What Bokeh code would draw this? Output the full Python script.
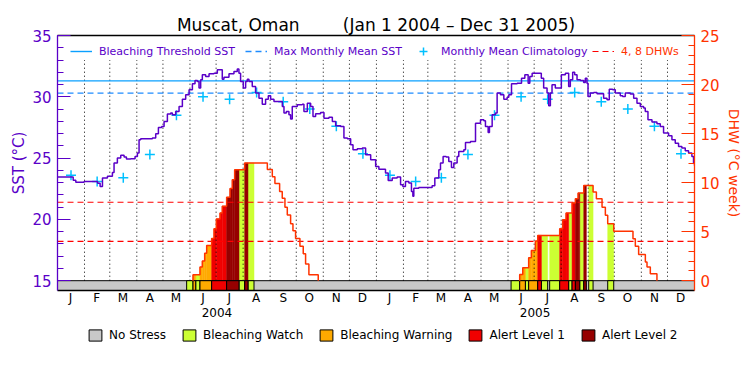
import datetime as dt
from bokeh.plotting import figure
from bokeh.layouts import column
from bokeh.models import Range1d, LinearAxis, FixedTicker, Legend, LegendItem
from bokeh.embed import file_html
from bokeh.resources import INLINE

# ---------------- data ----------------
years = [2004, 2005]
month_letters = ["J", "F", "M", "A", "M", "J", "J", "A", "S", "O", "N", "D"]

# daily SST (days since Jan 1 2004)
sst_day = [0, 15, 18, 21, 30.5, 43.9, 46, 48.9, 51.6, 57.3, 63, 64.9, 68.7, 72.6, 76.4, 79.1, 84, 89,
           91.7, 93.6, 95.5, 108.9, 112.7, 115.8, 119.6, 122.3, 126.1, 129.9, 131.8, 135.6, 139.5,
           143.3, 147.1, 151, 154.8, 157.8, 160.5, 162.4, 164.3, 166.2, 170, 173.9, 179.6, 183.4,
           186, 189.1, 191, 196.8, 202.5, 206.3, 208.2, 210.1, 213.2, 215.9, 217.8, 219.7, 223.5,
           227.3, 231.2, 235, 238.8, 241.9, 244.6, 248.4, 258, 259.9, 262.6, 265.6, 267.5, 269.4,
           275.2, 280.9, 282.8, 286.7, 290.5, 293.2, 296.2, 301.9, 305.8, 311.5, 315.4, 319.2,
           324.9, 328.7, 332.6, 336.4, 339.1, 344, 349.8, 353.6, 359.4, 365.1,
           368.8, 376.4, 379.5, 384.1, 389.8, 393.7, 396.3, 399.3, 403.2, 406.2, 407.8, 408.9,
           414.6, 429.9, 433, 437.6, 439.5, 442.5, 446, 449, 452.1, 454.8, 458.6, 460.5, 466.3,
           468.2, 473.9, 479.7, 485.4, 489.2, 491.1, 494.2, 495.7, 498.8, 502.6, 504.5, 508.3,
           512.2, 516, 517.9, 521, 527.5, 532.5, 536.3, 540.1, 542, 544.7, 553,
           555.2, 557.9, 561.8, 563.7, 565.6, 567.5, 571.3, 578.2, 582.8, 586.6, 588.5, 591.2,
           593.5, 596.2, 600, 603.8, 605.7, 607.6, 608.8, 611.4, 615.3, 619.1, 626.7, 630.6,
           633.2, 637.1, 640.1, 645.8, 648.5, 651.6, 657.3, 661.2, 665, 668.8, 672.6, 674.5,
           677.6, 682.2, 687.9, 691.7, 695.5, 701.3, 705.1, 708.9, 712.7, 716.5, 720.4, 724.2,
           728, 729.9, 731]
sst_val = [23.45, 23.45, 23.2, 23.02, 23.1, 23.1, 22.95, 22.69, 23.37, 23.51, 23.83, 24.59, 25.0,
           25.24, 25.08, 24.92, 24.95, 25.14, 25.41, 26.49, 26.58, 26.63, 26.98, 27.5, 27.58,
           27.99, 28.59, 28.67, 28.53, 28.8, 29.21, 29.81, 30.16, 30.57, 31.06, 31.33, 31.25,
           30.71, 31.39, 31.79, 31.66, 31.88, 31.93, 32.2,
           32.2, 31.44, 31.6, 31.88, 32.07, 32.26, 31.93, 31.25, 30.71, 31.25, 31.44, 31.25, 30.84,
           30.3, 29.89, 29.4, 29.81, 30.08, 29.81, 29.62, 29.21, 28.67, 28.8, 28.53, 28.18, 29.21,
           29.35, 29.4, 28.8, 29.48, 29.21, 28.4, 28.61, 28.72, 28.26, 28.34, 27.99, 27.64,
           27.58, 26.63, 26.58, 26.09, 25.68, 25.76, 25.82, 25.27, 24.86, 24.32,
           24.1, 23.78, 23.18, 23.37, 23.45, 22.83, 22.69, 23.1, 22.96, 22.28, 21.88, 22.55,
           22.61, 22.74, 23.37, 24.05, 24.59, 25.14, 25.08, 24.73, 24.24, 24.59, 25.14, 25.54, 25.68,
           26.28, 26.36, 27.85, 28.13, 28.04, 27.58, 27.09, 27.58, 28.53, 28.67, 30.3, 30.16,
           29.81, 29.97, 30.16, 31.06, 31.11, 31.52, 31.79, 31.11, 31.66, 31.93, 31.93,
           31.52, 30.71, 30.3, 29.27, 30.3, 30.98, 30.71, 31.79, 31.93, 30.84, 31.39, 32.01,
           31.79, 31.39, 31.33, 31.17, 31.52, 31.11, 30.03, 30.3, 30.35, 30.24, 29.89, 29.75,
           30.62, 30.57, 30.3, 30.08, 30.03, 30.3, 30.22, 29.89, 29.48, 29.21, 29.08, 28.8,
           28.13, 27.94, 27.8, 27.58, 27.04, 26.82, 26.49, 26.22, 25.95, 25.82, 25.6, 25.41,
           25.14, 24.59, 24.4]

clim_sst = [23.6, 23.1, 23.4, 25.3, 28.5, 30.0, 29.8, 30.35, 29.6, 29.0, 27.6, 25.35]
mmm_sst = 30.3
threshold_sst = 31.3
dhw_levels = [4, 8]

# DHW steps: start day, DHW value, stress status (0 none, 1 watch, 2 warning, 3 alert1, 4 alert2)
dhw04_day = [148.2, 155.5, 158.6, 163.5, 166.2, 168.9, 171.2, 176.9, 179.6, 182.3, 186.5, 189.1,
             194.1, 198.0, 200.6, 203.3, 208.3, 214.8, 218.6, 225.5, 240.8, 246.5, 249.5, 254.9,
             257.9, 261.0, 263.7, 267.5, 270.2, 273.2, 278.2, 282.0, 284.7, 288.5, 299.2]
dhw04_val = [0.0, 0.6, 0.6, 1.4, 2.0, 2.8, 3.6, 4.3, 5.3, 6.3, 6.9, 7.6, 8.5, 9.4, 10.3, 11.3,
             11.3, 12.0, 12.0, 12.0, 11.35, 10.6, 9.9, 9.1, 8.4, 7.5, 6.7, 5.8, 5.1, 4.3, 3.5,
             2.75, 1.7, 0.6, 0.0]
dhw04_status = [1, 2, 1, 2, 2, 2, 2, 3, 3, 3, 3, 3, 4, 4, 4, 4, 1, 4, 1, 0, 0, 0, 0, 0,
                0, 0, 0, 0, 0, 0, 0, 0, 0, 0, 0]
dhw05_day = [520.5, 530.4, 533.9, 536.9, 540.7, 543.8, 548.4, 551.1, 555.3, 562.5, 564.8, 576.3,
             579.7, 583.6, 586.6, 590.5, 594.3, 597.4, 599.3, 603.9, 606.9, 609.6, 614.6, 618.4,
             624.9, 628.7, 631.4, 638.3, 660.4, 663.1, 666.9, 674.6, 676.5, 680.3, 687.9]
dhw05_val = [0.0, 0.64, 1.32, 1.32, 2.34, 3.09, 4.04, 4.62, 4.62, 4.62, 4.62, 5.3, 6.22, 6.9,
             6.9, 7.92, 8.36, 8.93, 8.93, 9.71, 9.71, 9.71, 9.04, 8.36, 7.5, 6.66, 5.81, 5.03,
             4.28, 3.5, 2.68, 1.9, 1.39, 0.71, 0.0]
dhw05_status = [1, 2, 2, 1, 2, 2, 2, 3, 1, 0, 1, 3, 3, 3, 1, 3, 4, 4, 1, 4, 0, 1, 0, 0,
                0, 0, 1, 0, 0, 0, 0, 0, 0, 0, 0]

status_names = ["No Stress", "Bleaching Watch", "Bleaching Warning", "Alert Level 1", "Alert Level 2"]
status_colors = ["#c8c8c8", "#ccff33", "#ffaa00", "#f00000", "#960000"]

# ---------------- style ----------------
FONT = "DejaVu Sans"
PURPLE = "#5a00c8"
DHWRED = "#ff3300"

t0 = dt.date(years[0], 1, 1)
month_starts = [(dt.date(y, m, 1) - t0).days for y in years for m in range(1, 13)]
total_days = (dt.date(years[-1] + 1, 1, 1) - t0).days
edges = month_starts + [total_days]
month_mid = [(a + b) / 2 for a, b in zip(edges[:-1], edges[1:])]
month_mid_int = [(a + b) // 2 for a, b in zip(edges[:-1], edges[1:])]
ystarts = [(dt.date(y, 1, 1) - t0).days for y in years] + [total_days]
year_mid = [(a + b) // 2 for a, b in zip(ystarts[:-1], ystarts[1:])]

p = figure(width=750, height=327,
           x_range=Range1d(0, total_days), y_range=Range1d(14.2, 35),
           x_axis_location=None, y_axis_location=None,
           output_backend="svg", toolbar_location=None,
           min_border_left=57, min_border_right=56, min_border_top=35, min_border_bottom=37,
           outline_line_color=None, background_fill_color="white", border_fill_color="white")
p.extra_y_ranges = {"dhw": Range1d(-1, 25)}
p.xgrid.visible = False
p.ygrid.visible = False

p.title.text = "Muscat, Oman" + "\u00a0" * 8 + "(Jan 1 2004 \u2013 Dec 31 2005)"
p.title.align = "center"
p.title.text_font = FONT
p.title.text_font_size = "17px"
p.title.text_font_style = "normal"
p.title.text_color = "black"
p.title.standoff = 1

# ---------------- DHW filled steps ----------------
def step_rows(days, vals, stats):
    return [(days[i], days[i + 1], vals[i], stats[i]) for i in range(len(days) - 1)]

def status_runs(days, stats):
    out, i, n = [], 0, len(days) - 1
    while i < n:
        j = i
        while j + 1 < n and stats[j + 1] == stats[i]:
            j += 1
        out.append((days[i], days[j + 1], stats[i]))
        i = j + 1
    return out

rows = step_rows(dhw04_day, dhw04_val, dhw04_status) + step_rows(dhw05_day, dhw05_val, dhw05_status)
runs = status_runs(dhw04_day, dhw04_status) + status_runs(dhw05_day, dhw05_status)

for s in range(1, 5):
    sel = [r for r in rows if r[3] == s and r[2] > 0]
    p.quad(left=[r[0] for r in sel], right=[r[1] for r in sel], bottom=0, top=[r[2] for r in sel],
           y_range_name="dhw", fill_color=status_colors[s], line_color=status_colors[s], line_width=0.5)

# month dotted lines
p.segment(x0=month_starts[1:], x1=month_starts[1:], y0=15, y1=33,
          line_color="black", line_dash="1 3", line_width=1)

# DHW 4, 8 lines
dhw_r = p.segment(x0=0, x1=total_days, y0=dhw_levels, y1=dhw_levels, y_range_name="dhw",
                  line_color="#ff0000", line_dash="6 4", line_width=1.2)

# stress band
p.quad(left=[0], right=[total_days], bottom=[-1], top=[0], y_range_name="dhw",
       fill_color=status_colors[0], line_color="black", line_width=1)
for s in range(1, 5):
    sel = [r for r in runs if r[2] == s]
    p.quad(left=[r[0] for r in sel], right=[r[1] for r in sel], bottom=-1, top=0,
           y_range_name="dhw", fill_color=status_colors[s], line_color="black", line_width=1)

# thresholds
thr_r = p.segment(x0=[0], x1=[total_days], y0=[threshold_sst], y1=[threshold_sst],
                  line_color="#0aa0ff", line_width=1.4)
mmm_r = p.segment(x0=[0], x1=[total_days], y0=[mmm_sst], y1=[mmm_sst],
                  line_color="#1e8cff", line_width=1.3, line_dash="6 4")

clim_r = p.scatter(x=month_mid, y=clim_sst * len(years), marker="cross", size=10,
                   line_color="#00c0ff", line_width=1.5)

p.step(sst_day, sst_val, mode="after", line_color=PURPLE, line_width=1.5)

for days, vals in [(dhw04_day, dhw04_val), (dhw05_day, dhw05_val)]:
    k = next(i for i, v in enumerate(vals) if v > 0)
    p.step([days[k]] + days[k:], [0] + vals[k:], mode="after", y_range_name="dhw",
           line_color=DHWRED, line_width=1.5)

# ---------------- axes ----------------
def style_axis(ax, color, size="15px"):
    ax.axis_line_color = color
    ax.axis_line_width = 1.3
    ax.major_tick_line_color = color
    ax.minor_tick_line_color = color
    ax.major_tick_in = 13
    ax.major_tick_out = 0
    ax.minor_tick_in = 6
    ax.minor_tick_out = 0
    ax.major_label_text_color = color
    ax.major_label_text_font = FONT
    ax.major_label_text_font_size = size
    ax.axis_label_text_color = color
    ax.axis_label_text_font = FONT
    ax.axis_label_text_font_style = "normal"
    ax.major_label_standoff = 6

yl = LinearAxis(ticker=FixedTicker(ticks=list(range(15, 36, 5)), minor_ticks=list(range(15, 36))),
                axis_label="SST (\u00b0C)")
style_axis(yl, PURPLE)
yl.axis_label_text_font_size = "15px"
yl.axis_label_standoff = 1
p.add_layout(yl, "left")

yr = LinearAxis(y_range_name="dhw",
                ticker=FixedTicker(ticks=list(range(0, 26, 5)), minor_ticks=list(range(0, 26))),
                axis_label="DHW (\u00b0C week)")
style_axis(yr, DHWRED)
yr.axis_label_text_font_size = "14px"
yr.axis_label_standoff = 3
p.add_layout(yr, "right")

top = LinearAxis(ticker=FixedTicker(ticks=[]))
top.axis_line_color = "black"
top.axis_line_width = 1.3
top.major_tick_out = 0
top.minor_tick_out = 0
top.major_label_standoff = 0
p.add_layout(top, "above")

def plain_axis(ax):
    ax.major_tick_line_color = None
    ax.minor_tick_line_color = None
    ax.major_tick_out = 0
    ax.minor_tick_out = 0
    ax.major_tick_in = 0
    ax.minor_tick_in = 0
    ax.major_label_text_font = FONT
    ax.major_label_text_font_size = "12px"
    ax.major_label_text_color = "black"

xm = LinearAxis(ticker=FixedTicker(ticks=month_mid_int),
                major_label_overrides={t: l for t, l in zip(month_mid_int, month_letters * len(years))})
plain_axis(xm)
xm.axis_line_color = "black"
xm.axis_line_width = 1.3
xm.major_label_standoff = 0
p.add_layout(xm, "below")

xy = LinearAxis(ticker=FixedTicker(ticks=year_mid),
                major_label_overrides={t: str(y) for t, y in zip(year_mid, years)})
plain_axis(xy)
xy.axis_line_color = None
xy.major_label_standoff = 0
p.add_layout(xy, "below")

# ---------------- legends ----------------
def leg_style(leg, color, size):
    leg.border_line_color = None
    leg.background_fill_alpha = 0
    leg.label_text_font = FONT
    leg.label_text_font_size = size
    leg.label_text_color = color
    leg.padding = 0
    leg.margin = 0

legA = Legend(items=[LegendItem(label="Bleaching Threshold SST", renderers=[thr_r]),
                     LegendItem(label="Max Monthly Mean SST", renderers=[mmm_r]),
                     LegendItem(label="Monthly Mean Climatology", renderers=[clim_r])],
              orientation="horizontal", location=(13, 229), glyph_width=22, glyph_height=20,
              label_height=12, label_standoff=7, spacing=10)
leg_style(legA, PURPLE, "11px")
p.add_layout(legA)

legB = Legend(items=[LegendItem(label="4, 8 DHWs", renderers=[dhw_r])],
              orientation="horizontal", location=(535, 229), glyph_width=22, glyph_height=20,
              label_height=12, label_standoff=7, spacing=10)
leg_style(legB, DHWRED, "11px")
p.add_layout(legB)

# status key: a strip below the chart, one swatch per stress level
q = figure(width=750, height=30, x_range=Range1d(0, 1), y_range=Range1d(0, 1),
           x_axis_location=None, y_axis_location=None, output_backend="svg", toolbar_location=None,
           min_border_left=0, min_border_right=0, min_border_top=0, min_border_bottom=0,
           outline_line_color=None, border_fill_color="white")
q.xgrid.visible = False
q.ygrid.visible = False
key_r = [q.quad(left=[-2], right=[-1], bottom=[-2], top=[-1], fill_color=c, line_color="black",
                line_width=1) for c in status_colors]
legS = Legend(items=[LegendItem(label=n, renderers=[r]) for n, r in zip(status_names, key_r)],
              orientation="horizontal", location=(30, 15), glyph_width=16, glyph_height=14,
              label_height=14, label_standoff=6, spacing=15)
leg_style(legS, "black", "12px")
q.add_layout(legS)

open("out.html", "w").write(file_html(column(p, q, spacing=0), INLINE))
